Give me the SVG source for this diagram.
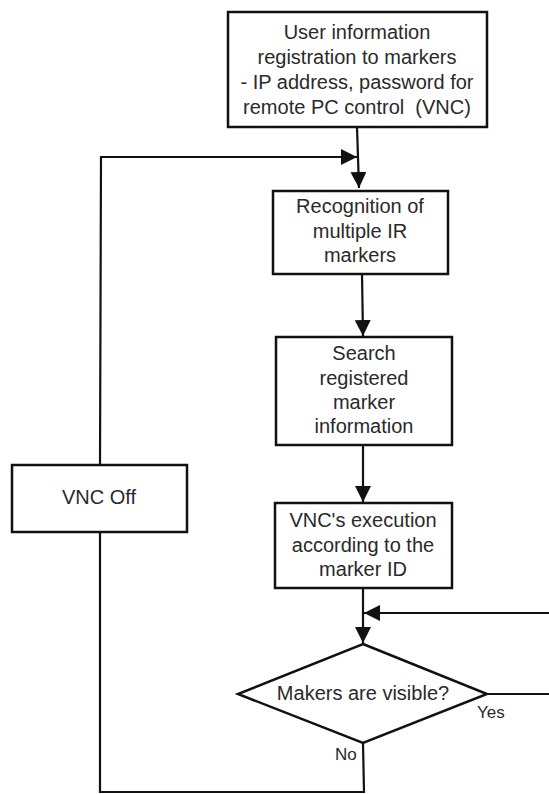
<svg xmlns="http://www.w3.org/2000/svg" width="549" height="794" viewBox="0 0 549 794">
<defs>
<style>
.box{fill:#fff;stroke:#111;stroke-width:2.5}
.t{font-family:"Liberation Sans",Arial,sans-serif;font-size:20px;fill:#2a2a2a;text-anchor:middle}
.s{font-family:"Liberation Sans",Arial,sans-serif;font-size:17px;fill:#2a2a2a}
.ln{fill:none;stroke:#111;stroke-width:2.2}
</style>
<marker id="ah" viewBox="0 0 16 16" refX="16" refY="8" markerWidth="16" markerHeight="16" markerUnits="userSpaceOnUse" orient="auto">
<path d="M0,0 L16,8 L0,16 Z" fill="#111"/>
</marker>
</defs>
<rect width="549" height="794" fill="#fff"/>
<g id="connectors">
<path class="ln" d="M357,127 L359,188" marker-end="url(#ah)"/>
<path class="ln" d="M100,465 L101,157 L357,157" marker-end="url(#ah)"/>
<path class="ln" d="M362,274 L363,336" marker-end="url(#ah)"/>
<path class="ln" d="M363,445 L363,502" marker-end="url(#ah)"/>
<path class="ln" d="M363,588 L363,643" marker-end="url(#ah)"/>
<path class="ln" d="M549,613 L364,613" marker-end="url(#ah)"/>
<path class="ln" d="M487,694 L549,694"/>
<path class="ln" d="M363,743 L364,792 L100,792 L100,532"/>
</g>
<g id="n1">
<rect class="box" x="228" y="12" width="259" height="115"/>
<text class="t" x="357" y="39">User information</text>
<text class="t" x="357" y="64">registration to markers</text>
<text class="t" x="357" y="89">- IP address, password for</text>
<text class="t" x="357" y="114" xml:space="preserve">remote PC control  (VNC)</text>
</g>
<g id="n2">
<rect class="box" x="273" y="191" width="175" height="83"/>
<text class="t" x="360" y="213">Recognition of</text>
<text class="t" x="360" y="238">multiple IR</text>
<text class="t" x="360" y="262">markers</text>
</g>
<g id="n3">
<rect class="box" x="276" y="337" width="176" height="108"/>
<text class="t" x="364" y="360">Search</text>
<text class="t" x="364" y="385">registered</text>
<text class="t" x="364" y="409">marker</text>
<text class="t" x="364" y="433">information</text>
</g>
<g id="n4">
<rect class="box" x="275" y="503" width="177" height="85"/>
<text class="t" x="363" y="527">VNC's execution</text>
<text class="t" x="363" y="552">according to the</text>
<text class="t" x="363" y="576">marker ID</text>
</g>
<g id="n5">
<polygon class="box" points="363,644 487,694 363,743 238,694"/>
<text class="t" x="363" y="700">Makers are visible?</text>
<text class="s" x="477" y="718">Yes</text>
<text class="s" x="335" y="760">No</text>
</g>
<g id="n6">
<rect class="box" x="12" y="465" width="175" height="67"/>
<text class="t" x="99" y="504">VNC Off</text>
</g>
</svg>
